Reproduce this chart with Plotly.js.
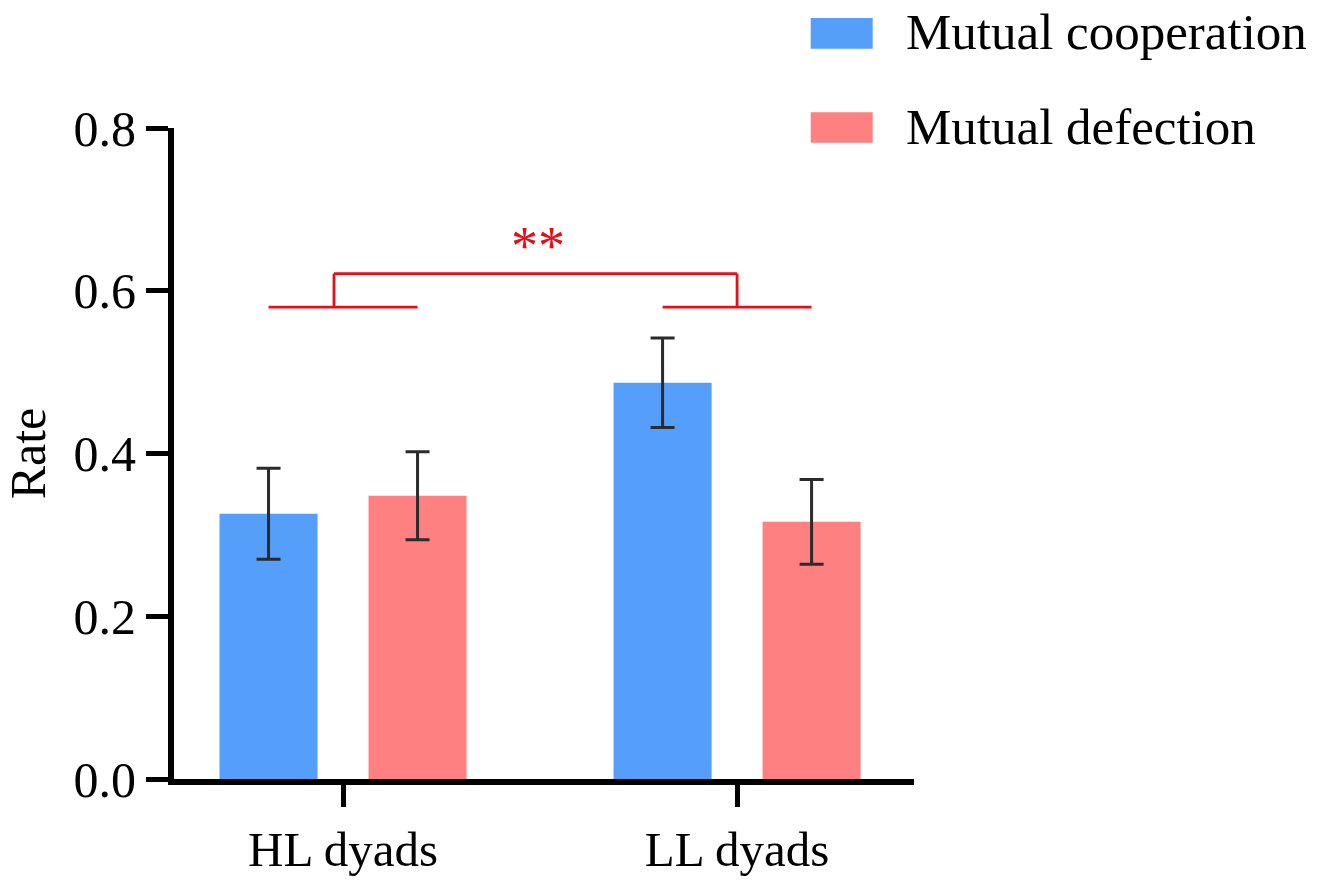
<!DOCTYPE html>
<html>
<head>
<meta charset="utf-8">
<script src="https://cdn.plot.ly/plotly-3.0.1.min.js"></script>
<style>html,body{margin:0;padding:0;background:#fff;}#chart{width:1324px;height:884px;}</style>
</head>
<body>
<div id="chart"></div>
<script>
// ---- data ----
const categories = ["HL dyads", "LL dyads"];
const seriesNames = ["Mutual cooperation", "Mutual defection"];
const cooperation = [0.326, 0.487];
const cooperationErr = [0.056, 0.055];
const defection = [0.348, 0.316];
const defectionErr = [0.054, 0.052];
const yTickVals = [0.0, 0.2, 0.4, 0.6, 0.8];
const yTickText = ["0.0", "0.2", "0.4", "0.6", "0.8"];
const yTitle = "Rate";
const bracketLow = 0.580;   // lower bracket level
const bracketHigh = 0.621;  // upper bracket level
const sigLabel = "**";

// ---- style / layout ----
const W = 1324, H = 884;
const M = {l: 174, r: 410, t: 127.5, b: 105};
const PW = W - M.l - M.r, PH = H - M.t - M.b;
const blue = "#559ffb", pink = "#ff8080", red = "#e3101a", errCol = "#2b2b2b";
const FONT = "Liberation Serif, Times New Roman, serif";
const bargap = 0.2437, bargroupgap = 0.342;
const off = (1 - bargap) / 4; // bar center offset from category center
const px2x = p => (p - M.l) / PW;
const px2y = p => (H - M.b - p) / PH;

const traces = [
  {type: "bar", name: seriesNames[0], x: categories, y: cooperation,
   marker: {color: blue},
   error_y: {type: "data", array: cooperationErr, visible: true, color: errCol, thickness: 3, width: 12},
   showlegend: false},
  {type: "bar", name: seriesNames[1], x: categories, y: defection,
   marker: {color: pink},
   error_y: {type: "data", array: defectionErr, visible: true, color: errCol, thickness: 3, width: 12},
   showlegend: false}
];

const stemShift = [-0.023, 0];
const shapes = [];
categories.forEach((c, i) => {
  shapes.push({type: "line", xref: "x", yref: "y", x0: i - off, x1: i + off, y0: bracketLow, y1: bracketLow, line: {color: red, width: 2.8}});
  shapes.push({type: "line", xref: "x", yref: "y", x0: i + stemShift[i], x1: i + stemShift[i], y0: bracketLow, y1: bracketHigh, line: {color: red, width: 2.8}});
});
shapes.push({type: "line", xref: "x", yref: "y", x0: 0 + stemShift[0], x1: 1 + stemShift[1], y0: bracketHigh, y1: bracketHigh, line: {color: red, width: 2.8}});

// legend (custom, large swatches)
const legendRows = [{y0: 17.3, y1: 48.3, color: blue}, {y0: 111.7, y1: 142.3, color: pink}];
const annotations = [];
legendRows.forEach((r, i) => {
  shapes.push({type: "rect", xref: "paper", yref: "paper", x0: px2x(810.7), x1: px2x(872.7), y0: px2y(r.y1), y1: px2y(r.y0), fillcolor: r.color, line: {width: 0}});
  annotations.push({xref: "paper", yref: "paper", x: px2x(904), y: px2y((r.y0 + r.y1) / 2 - 1), xanchor: "left", yanchor: "middle",
    text: seriesNames[i], showarrow: false, font: {family: FONT, size: 51, color: "#000"}});
});
annotations.push({xref: "x", yref: "y", x: 0.5 - 0.004, y: bracketHigh, yanchor: "bottom", xanchor: "center", yshift: -4,
  text: sigLabel, showarrow: false, font: {family: FONT, size: 54, color: red}});

const layout = {
  width: W, height: H,
  margin: M,
  paper_bgcolor: "#fff", plot_bgcolor: "#fff",
  font: {family: FONT, color: "#000"},
  barmode: "group", bargap: bargap, bargroupgap: bargroupgap,
  showlegend: false,
  xaxis: {type: "category", range: [-0.429, 1.449], showline: true, linecolor: "#000", linewidth: 6,
    ticks: "outside", ticklen: 22, tickwidth: 5, tickcolor: "#000", showgrid: false, zeroline: false,
    tickfont: {family: FONT, size: 49, color: "#000"}},
  yaxis: {range: [0, 0.8], tickvals: yTickVals, ticktext: yTickText, showline: true, linecolor: "#000", linewidth: 6,
    ticks: "outside", ticklen: 22, tickwidth: 5, tickcolor: "#000", showgrid: false, zeroline: false,
    tickfont: {family: FONT, size: 50, color: "#000"},
    title: {text: yTitle, font: {family: FONT, size: 50, color: "#000"}, standoff: 14}},
  shapes: shapes,
  annotations: annotations
};

Plotly.newPlot("chart", traces, layout, {displayModeBar: false, staticPlot: true});
</script>
</body>
</html>
